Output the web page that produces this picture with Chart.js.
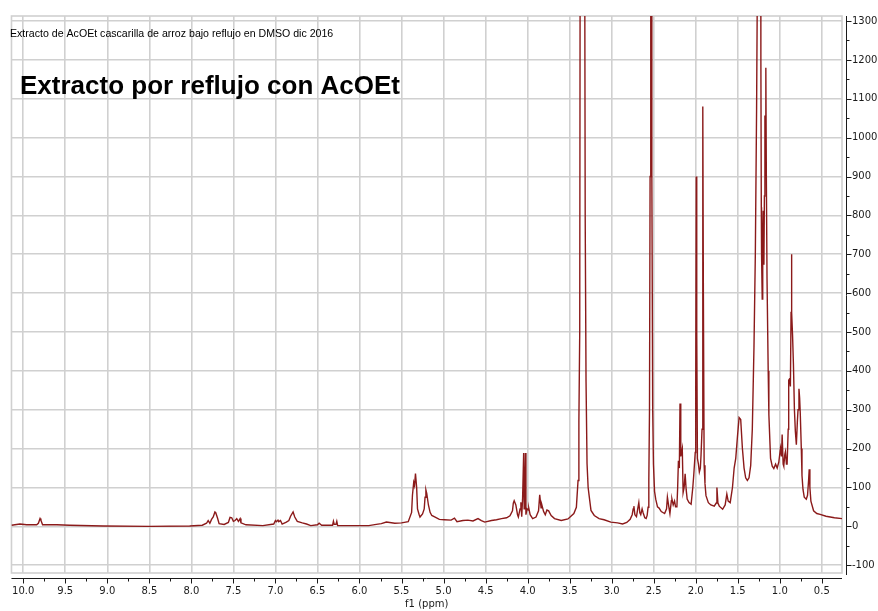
<!DOCTYPE html>
<html>
<head>
<meta charset="utf-8">
<script src="https://cdn.jsdelivr.net/npm/chart.js@4/dist/chart.umd.min.js"></script>
<style>
  html, body { margin: 0; padding: 0; background: #ffffff; }
  #wrap { width: 878px; height: 611px; position: relative; }
</style>
</head>
<body>
<div id="wrap"><canvas id="spectrum" width="878" height="611"></canvas></div>
<script>
// Texts
const sampleTitle = 'Extracto de AcOEt cascarilla de arroz bajo reflujo en DMSO dic 2016';
const headline = 'Extracto por reflujo con AcOEt';
const axisTitle = 'f1 (ppm)';

// Axis ranges and tick steps
const shiftRange = [0.26, 10.14];      // ppm, drawn high → low
const intensityRange = [-120, 1313];
const shiftStep = 0.5;
const intensityStep = 100;

// 1H spectrum, [chemical shift (ppm), intensity]
const downfieldRegion = [
  [10.14,3],[10.04,6],[9.96,4],[9.84,4],[9.82,8],[9.80,20],[9.79,16],[9.77,4],[9.60,4],[9.45,3],
  [9.05,1],[8.50,0],[8.02,1],[7.87,3],[7.82,8],[7.80,15],[7.78,8],[7.76,18],[7.74,24],[7.72,37],
  [7.71,35],[7.69,22],[7.67,7],[7.61,5],[7.56,10],[7.54,23],[7.52,22],[7.50,13],[7.48,15],[7.46,20],
  [7.44,13],[7.42,20],[7.41,9],[7.35,4],[7.15,2],[7.02,6],[7.00,15],[6.99,12],[6.97,16],[6.96,12],
  [6.94,15],[6.92,6],[6.87,11],[6.84,15],[6.82,26],[6.79,37],[6.77,24],[6.74,13],[6.68,9],[6.63,6],
  [6.58,2],[6.50,4],[6.48,8],[6.45,3],[6.32,3],[6.31,13],[6.30,5],[6.28,5],[6.27,13],[6.26,2],
  [5.89,2],[5.80,5]
];

const midRegion = [
  [5.74,7],[5.68,11],[5.58,8],[5.50,9],[5.42,12],[5.38,36],[5.37,80],[5.355,113],[5.345,105],[5.334,136],
  [5.32,100],[5.31,45],[5.29,30],[5.28,24],[5.25,32],[5.23,45],[5.22,75],[5.21,94],[5.20,85],[5.18,55],
  [5.16,36],[5.14,28],[5.10,24],[5.05,18],[4.99,17],[4.91,16],[4.87,21],[4.84,12],[4.77,15],[4.71,16],
  [4.65,14],[4.59,20],[4.55,15],[4.51,11],[4.43,15],[4.37,17],[4.31,20],[4.25,22],[4.21,27],[4.18,40],
  [4.17,60],[4.16,66],[4.14,55],[4.12,30],[4.11,24],[4.09,45],[4.08,62],[4.07,25],[4.06,70],[4.047,189],
  [4.041,45],[4.035,60],[4.026,189],[4.02,30],[4.006,45],[3.99,42],[3.986,47],[3.97,30],[3.94,20],[3.90,24],
  [3.87,40],[3.856,81],[3.84,48],[3.83,55],[3.81,38],[3.79,30],[3.77,42],[3.75,40],[3.72,28],[3.68,20],
  [3.60,15],[3.52,19],[3.45,33],[3.42,49],[3.40,118],[3.39,271],[3.38,500],[3.375,1500],[3.355,3200],[3.34,3500],
  [3.325,2000],[3.315,800],[3.305,373],[3.293,161],[3.28,100],[3.266,75],[3.246,41],[3.207,28],[3.15,20],[3.09,17],
  [3.01,11],[2.93,9]
];

const aliphaticRegion = [
  [2.87,6],[2.82,10],[2.78,18],[2.756,30],[2.744,45],[2.736,52],[2.724,30],[2.705,25],[2.69,45],[2.677,61],
  [2.665,35],[2.654,30],[2.638,45],[2.626,35],[2.606,22],[2.59,20],[2.578,28],[2.567,49],[2.558,120],[2.55,300],
  [2.543,900],[2.537,2600],[2.533,5000],[2.528,2600],[2.522,900],[2.512,300],[2.503,160],[2.49,90],[2.476,70],[2.455,50],
  [2.436,47],[2.41,38],[2.37,33],[2.347,45],[2.337,75],[2.32,50],[2.307,33],[2.29,66],[2.283,70],[2.268,55],
  [2.252,65],[2.24,50],[2.224,50],[2.215,100],[2.206,169],[2.195,150],[2.187,316],[2.178,180],[2.17,189],[2.16,200],
  [2.15,87],[2.138,100],[2.126,135],[2.114,95],[2.102,70],[2.08,61],[2.055,57],[2.035,100],[2.024,131],[2.012,170],
  [2.006,190],[2.0,350],[1.994,900],[1.988,500],[1.98,175],[1.968,160],[1.957,140],[1.945,150],[1.937,183],[1.925,250],
  [1.918,600],[1.914,1080],[1.909,600],[1.90,157],[1.89,110],[1.878,79],[1.85,61],[1.82,55],[1.78,52],[1.756,60],
  [1.748,100],[1.736,60],[1.72,52],[1.68,44],[1.65,55],[1.63,83],[1.614,65],[1.59,61],[1.563,100],[1.543,150],
  [1.524,175],[1.504,230],[1.484,280],[1.465,275],[1.445,201],[1.425,150],[1.406,125],[1.386,118],[1.366,125],[1.346,157],
  [1.327,250],[1.307,463],[1.291,700],[1.276,1075],[1.264,1500],[1.252,3000],[1.242,4000],[1.232,2500],[1.225,1200],[1.22,821],
  [1.217,700],[1.209,585],[1.203,750],[1.197,812],[1.189,673],[1.183,850],[1.177,1057],[1.172,900],[1.166,1180],[1.16,900],
  [1.152,638],[1.138,400],[1.13,288],[1.11,175],[1.09,155],[1.071,149],[1.05,160],[1.031,150],[1.012,165],[0.992,201],
  [0.98,180],[0.972,236],[0.96,160],[0.953,155],[0.94,185],[0.933,192],[0.921,160],[0.913,160],[0.90,250],[0.894,376],
  [0.882,380],[0.874,360],[0.866,550],[0.862,700],[0.856,550],[0.848,490],[0.838,419],[0.826,300],[0.815,245],[0.803,210],
  [0.791,270],[0.783,300],[0.772,354],[0.764,330],[0.756,288],[0.744,200],[0.736,131],[0.724,95],[0.709,75],[0.685,70],
  [0.67,80],[0.657,120],[0.65,147],[0.642,100],[0.63,65],[0.598,40],[0.56,33],[0.52,31],[0.45,26],[0.35,22],
  [0.26,20]
];

const spectrumPoints = [...downfieldRegion, ...midRegion, ...aliphaticRegion]
  .map(([x, y]) => ({ x, y }));

const gridColor = '#d0d0d0';
const axisColor = '#1a1a1a';

// Frame, axis lines with major/minor tick marks, and the text blocks
const framePlugin = {
  id: 'spectrumFrame',
  beforeDatasetsDraw(chart) {
    const { ctx, chartArea: a } = chart;
    ctx.save();
    ctx.strokeStyle = gridColor;
    ctx.lineWidth = 1.6;
    ctx.strokeRect(a.left, a.top, a.right - a.left, a.bottom - a.top);
    ctx.restore();
  },
  afterDraw(chart) {
    const { ctx, chartArea: a } = chart;
    const xs = chart.scales.x, ys = chart.scales.y;
    ctx.save();
    ctx.strokeStyle = axisColor;
    ctx.lineWidth = 1;

    // horizontal axis
    const axY = a.bottom + 5.5;
    ctx.beginPath();
    ctx.moveTo(a.left, axY); ctx.lineTo(a.right, axY);
    for (let v = 0.25; v <= 10.25; v += 0.25) {
      const px = Math.round(xs.getPixelForValue(v)) + 0.5;
      if (px < a.left || px > a.right) continue;
      const major = Math.abs(v / shiftStep - Math.round(v / shiftStep)) < 1e-6;
      ctx.moveTo(px, axY); ctx.lineTo(px, axY + (major ? 5 : 3));
    }
    ctx.stroke();

    // vertical axis
    const axX = a.right + 4.5;
    ctx.beginPath();
    ctx.moveTo(axX, a.top); ctx.lineTo(axX, a.bottom + 2);
    for (let v = -100; v <= 1300; v += 50) {
      const py = Math.round(ys.getPixelForValue(v)) + 0.5;
      const major = v % intensityStep === 0;
      ctx.moveTo(axX, py); ctx.lineTo(axX + (major ? 5 : 3), py);
    }
    ctx.stroke();

    // texts
    ctx.fillStyle = '#000';
    ctx.textBaseline = 'alphabetic';
    ctx.textAlign = 'left';
    ctx.font = '10.6px "Liberation Sans"';
    ctx.fillText(sampleTitle, 10, 37);
    ctx.font = 'bold 26px "Liberation Sans"';
    ctx.fillText(headline, 20, 94);
    ctx.font = '10px "DejaVu Sans"';
    ctx.fillStyle = '#1a1a1a';
    ctx.textAlign = 'center';
    ctx.fillText(axisTitle, (a.left + a.right) / 2, 607);
    ctx.restore();
  }
};

new Chart(document.getElementById('spectrum'), {
  type: 'line',
  data: {
    datasets: [{
      data: spectrumPoints,
      borderColor: '#8b1a1a',
      borderWidth: 1.4,
      pointRadius: 0,
      tension: 0,
      fill: false
    }]
  },
  options: {
    responsive: false,
    animation: false,
    layout: { padding: { left: 8, top: 13, right: 0, bottom: 0 } },
    plugins: { legend: { display: false }, tooltip: { enabled: false } },
    scales: {
      x: {
        type: 'linear',
        reverse: true,
        min: shiftRange[0],
        max: shiftRange[1],
        afterFit: (s) => { s.height = 38; },
        grid: { color: gridColor, lineWidth: 1.6, drawTicks: false },
        border: { display: false },
        ticks: {
          stepSize: shiftStep,
          includeBounds: false,
          padding: 12,
          maxRotation: 0,
          autoSkip: false,
          color: '#1a1a1a',
          font: { family: 'DejaVu Sans', size: 10 },
          callback: (v) => Number(v).toFixed(1)
        }
      },
      y: {
        type: 'linear',
        position: 'right',
        min: intensityRange[0],
        max: intensityRange[1],
        afterFit: (s) => { s.width = 36; },
        grid: { color: gridColor, lineWidth: 1.6, drawTicks: false },
        border: { display: false },
        ticks: {
          stepSize: intensityStep,
          includeBounds: false,
          padding: 10,
          autoSkip: false,
          color: '#1a1a1a',
          font: { family: 'DejaVu Sans', size: 10 },
          callback: (v) => String(v)
        }
      }
    }
  },
  plugins: [framePlugin]
});
</script>
</body>
</html>
